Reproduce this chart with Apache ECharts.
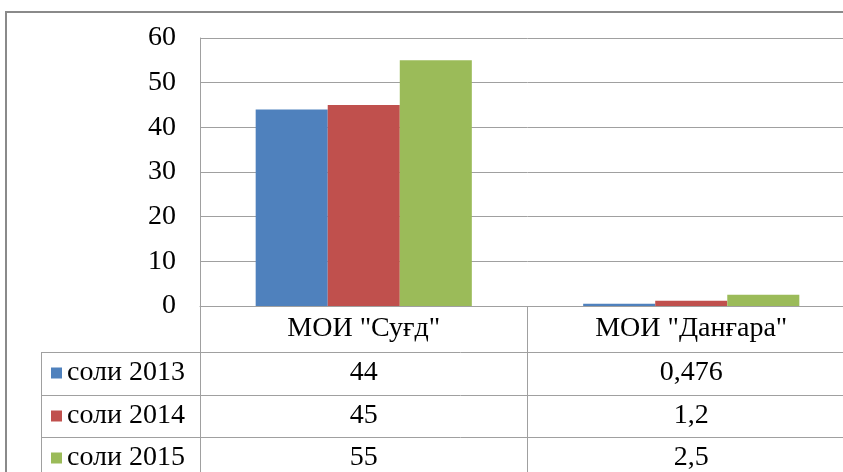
<!DOCTYPE html>
<html>
<head>
<meta charset="utf-8">
<script src="https://cdn.jsdelivr.net/npm/echarts@6/dist/echarts.min.js"></script>
<style>html,body{margin:0;padding:0;background:#fff;overflow:hidden}#c{width:880px;height:472px}</style>
</head>
<body>
<div id="c"></div>
<script>
const categories = ['МОИ "Суғд"', 'МОИ "Данғара"'];
const seriesNames = ['соли 2013', 'соли 2014', 'соли 2015'];
const values2013 = [44, 0.476];
const values2014 = [45, 1.2];
const values2015 = [55, 2.5];
const yTicks = [0, 10, 20, 30, 40, 50, 60];

const allValues = [values2013, values2014, values2015];
const colors = ['#4F81BD', '#C0504D', '#9BBB59'];
const FONT = 'Liberation Serif';
const FS = 28;
const gridColor = '#A0A0A0';

const fmt = v => String(v).replace('.', ',');

const rowOffsets = [46, 89, 131];
const rowCenters = [373, 416, 458];

const xAxes = [{
  type: 'category',
  data: categories,
  position: 'bottom',
  axisLine: { show: true, lineStyle: { color: gridColor, width: 1 } },
  axisTick: { show: true, length: 175, lineStyle: { color: gridColor, width: 1 } },
  axisLabel: { fontFamily: FONT, fontSize: FS, color: '#000', margin: 9 }
}];
allValues.forEach((arr, i) => {
  xAxes.push({
    type: 'category',
    data: categories,
    position: 'bottom',
    offset: rowOffsets[i],
    axisLine: { show: false },
    axisTick: { show: false },
    axisLabel: {
      fontFamily: FONT, fontSize: FS, color: '#000', margin: 7,
      formatter: (val, idx) => fmt(arr[idx])
    }
  });
});

const legends = seriesNames.map((n, i) => ({
  data: [n],
  left: 51,
  top: rowCenters[i] - 14,
  padding: 0,
  itemWidth: 11,
  itemHeight: 11,
  icon: 'rect',
  textStyle: { fontFamily: FONT, fontSize: FS, color: '#000', padding: [0, 0, 0, 0] }
}));

const graphics = [
  { type: 'rect', shape: { x: 6, y: 12, width: 900, height: 500 }, style: { fill: 'none', stroke: '#8A8A8A', lineWidth: 2 }, silent: true },
  { type: 'line', shape: { x1: 41, y1: 352.5, x2: 880, y2: 352.5 }, style: { stroke: gridColor, lineWidth: 1 } },
  { type: 'line', shape: { x1: 41, y1: 395.5, x2: 880, y2: 395.5 }, style: { stroke: gridColor, lineWidth: 1 } },
  { type: 'line', shape: { x1: 41, y1: 437.5, x2: 880, y2: 437.5 }, style: { stroke: gridColor, lineWidth: 1 } },
  { type: 'line', shape: { x1: 41.5, y1: 352, x2: 41.5, y2: 480 }, style: { stroke: gridColor, lineWidth: 1 } }
];

const chart = echarts.init(document.getElementById('c'), null, { renderer: 'canvas' });
chart.setOption({
  animation: false,
  backgroundColor: '#fff',
  grid: { left: 200, top: 38, width: 655, height: 268, containLabel: false },
  legend: legends,
  xAxis: xAxes,
  yAxis: {
    type: 'value',
    min: yTicks[0],
    max: yTicks[yTicks.length - 1],
    interval: 10,
    axisLine: { show: true, lineStyle: { color: gridColor } },
    axisTick: { show: false },
    splitLine: { show: true, lineStyle: { color: gridColor, width: 1 } },
    axisLabel: { fontFamily: FONT, fontSize: FS, color: '#000', margin: 24 }
  },
  series: seriesNames.map((n, i) => ({
    name: n,
    type: 'bar',
    data: allValues[i],
    barGap: '0%',
    barCategoryGap: '34%',
    itemStyle: { color: colors[i] }
  })),
  graphic: graphics
});
</script>
</body>
</html>
